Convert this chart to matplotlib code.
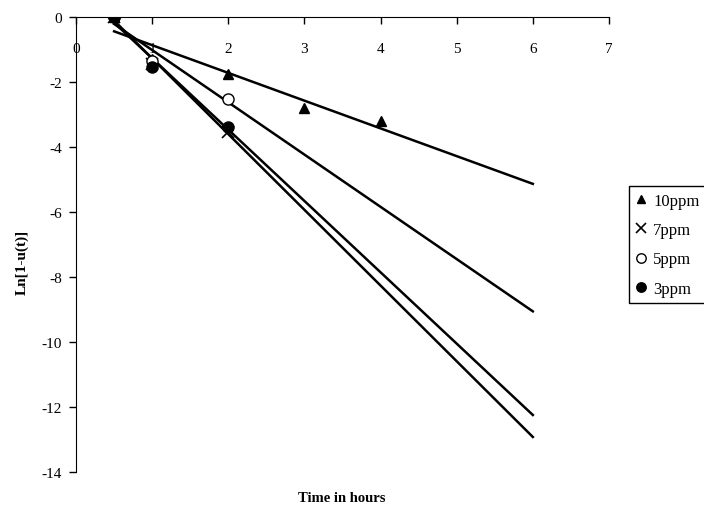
import numpy as np
import matplotlib
matplotlib.use("Agg")
import matplotlib.pyplot as plt

plt.rcParams['font.family'] = ['Liberation Serif', 'DejaVu Serif']
plt.rcParams['axes.unicode_minus'] = False

# hours and Ln[1-u(t)]
t_10 = [0.5, 1, 2, 3, 4]
y_10 = [0, -1.3, -1.75, -2.8, -3.2]
t_7 = [0.5, 1, 2]
y_7 = [0, -1.45, -3.55]
t_5 = [0.5, 1, 2]
y_5 = [0, -1.35, -2.52]
t_3 = [0.5, 1, 2]
y_3 = [0, -1.54, -3.38]

fig = plt.figure(figsize=(7.04, 5.10), dpi=100)
ax = fig.add_axes([0.108, 0.0725, 0.757, 0.8925])

# linear trendlines, extended forward to 6 hours
for t, y in [(t_10, y_10), (t_5, y_5), (t_7, y_7), (t_3, y_3)]:
    k, b = np.polyfit(t, y, 1)
    xs = np.array([0.5, 6])
    ax.plot(xs, k * xs + b, color='black', lw=1.8, zorder=2)

ax.plot(t_10, y_10, ls='none', marker='^', ms=7, color='black', label='10ppm', zorder=3)
ax.plot(t_7, y_7, ls='none', marker='x', ms=8, mew=1.2, color='black', label='7ppm', zorder=3)
ax.plot(t_5, y_5, ls='none', marker='o', ms=8, mfc='white', mec='black', mew=1, label='5ppm', zorder=3)
ax.plot(t_3, y_3, ls='none', marker='o', ms=8, color='black', label='3ppm', zorder=3)

ax.set_xlim(0, 7)
ax.set_ylim(-14, 0)
ax.set_xticks(range(0, 8))
ax.set_yticks(range(-14, 1, 2))

ax.spines['top'].set_visible(False)
ax.spines['right'].set_visible(False)
ax.spines['bottom'].set_position(('data', 0))
ax.tick_params(axis='both', direction='out', length=5, width=1, labelsize=11)
ax.tick_params(axis='x', pad=13)
ax.tick_params(axis='y', pad=5)

fig.text(22 / 704, 1 - 262 / 510, 'Ln[1-u(t)]', rotation=90, ha='center', va='center',
         fontsize=11, fontweight='bold')
fig.text(342 / 704, 1 - 499 / 510, 'Time in hours', ha='center', va='center',
         fontsize=10.5, fontweight='bold')

ax.legend(loc='upper left', bbox_to_anchor=(629 / 704, 1 - 187 / 510),
          bbox_transform=fig.transFigure, frameon=True, fancybox=False,
          edgecolor='black', framealpha=1, fontsize=12, handlelength=0.6,
          markerscale=0.85, handletextpad=0.45, borderpad=0.4, labelspacing=0.8,
          borderaxespad=0)

fig.savefig('out.png', dpi=100)
